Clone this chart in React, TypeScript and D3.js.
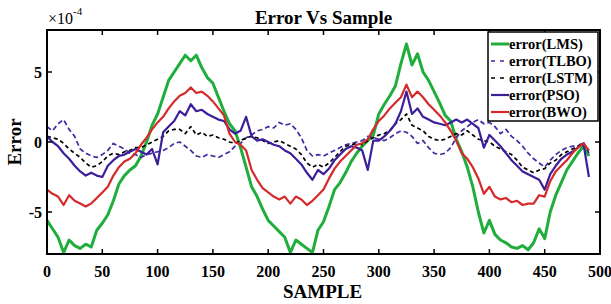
import React, { useEffect, useRef } from "react";
import * as d3 from "d3";

// sample step between stored values
const STEP = 5;

const xTicks = [0, 50, 100, 150, 200, 250, 300, 350, 400, 450, 500];
const yTicks = [-5, 0, 5];

// error values, in units of 1e-4
const lms = [
  -5.6, -6.2, -6.8, -7.9, -7.0, -7.4, -7.6, -7.3, -7.5, -6.3,
  -5.8, -5.2, -4.2, -3.0, -2.4, -2.0, -1.7, -1.0, 0.0, 1.2,
  2.0, 3.2, 4.4, 5.0, 5.6, 6.2, 5.8, 6.2, 5.3, 4.6,
  4.2, 3.2, 2.2, 1.3, 0.8, -0.4, -1.8, -3.2, -3.9, -4.8,
  -5.6, -6.0, -6.4, -6.8, -7.9, -7.0, -7.3, -7.6, -7.9, -6.3,
  -5.7, -4.6, -3.4, -2.9, -2.2, -1.4, -0.8, -0.3, 0.1, 0.5,
  2.0, 2.7, 3.3, 4.0, 5.6, 7.0, 5.5, 6.3, 5.0, 4.4,
  3.6, 2.8, 1.9, 1.5, 0.2, -0.7, -1.8, -3.2, -5.0, -6.5,
  -5.6, -6.6, -7.0, -7.2, -7.5, -7.6, -7.4, -7.7, -7.2, -6.2,
  -6.9, -5.0, -3.8, -2.9, -2.0, -1.4, -0.8, -0.3, -1.0,
];
const tlbo = [
  1.1, 0.8, 1.3, 1.6, 0.9, 0.4, -0.5, -0.8, -1.0, -1.1,
  -0.9, -0.6, -0.1, -0.3, -0.5, -0.8, -0.9, -1.1, -0.9, -0.8,
  -0.7, -0.6, -0.4, -0.1, 0.0, -0.3, -0.6, -1.0, -1.1, -0.9,
  -1.0, -1.1, -0.9, -0.7, -0.3, -0.1, 0.3, 0.5, 0.8, 0.9,
  1.1, 1.0, 1.4, 1.2, 1.3, 0.9, 0.3, -0.6, -1.0, -0.9,
  -1.0, -0.8, -0.6, -0.4, -0.2, -0.1, 0.0, 0.1, 0.4, 0.3,
  0.2, 0.1, 0.3, 0.6, 0.8, 0.7, 0.4, -0.1, 0.1, -0.4,
  -0.8, -0.9, -0.8, -0.4, 0.3, 0.8, 1.1, 1.4, 1.6, 1.3,
  1.4, 1.1, 0.6, 0.9, 0.4, 0.1, -0.3, -0.8, -1.2, -1.5,
  -1.8, -1.3, -0.9, -0.6, -0.4, -0.3, -0.3, 0.0, -0.8,
];
const lstm = [
  0.4, 0.3, 0.2, -0.1, -0.5, -0.8, -1.1, -1.5, -1.8, -1.7,
  -1.4, -1.0, -0.8, -0.9, -0.7, -0.6, -0.4, -0.4, -0.2, 0.0,
  0.2, 0.4, 0.8, 0.9, 0.9, 0.6, 1.1, 0.5, 0.7, 0.4,
  0.5, 0.3, 0.2, 0.0, -0.1, 0.1, 0.3, 0.4, 0.3, 0.1,
  -0.1, 0.0, 0.1, -0.1, -0.3, -0.5, -0.9, -1.5, -1.8, -1.6,
  -1.8, -1.5, -1.1, -0.7, -0.3, -0.2, -0.1, -0.2, 0.1, 0.3,
  0.5, 0.6, 0.8, 1.3, 1.6, 2.0, 1.2, 1.0, 0.8, 0.4,
  0.2, 0.1, 0.2, 0.4, 0.6, 0.5, 0.8, 0.5, 0.2, 0.1,
  0.0, -0.3, -0.5, -0.7, -0.9, -1.3, -1.8, -2.0, -2.2, -2.0,
  -1.9, -1.5, -1.3, -0.9, -0.7, -0.5, -0.3, -0.1, -0.6,
];
const pso = [
  0.4, 0.0, -0.3, -0.8, -1.2, -1.7, -2.1, -2.4, -2.2, -2.4,
  -2.5, -1.7, -1.3, -1.0, -0.9, -0.7, -0.5, -0.7, -0.9, -0.5,
  -1.6, 0.7, 1.1, 1.5, 2.2, 1.9, 2.7, 2.2, 2.3, 2.0,
  1.8, 1.6, 1.5, 0.9, 0.6, 0.8, 1.8, 0.4, 0.1, 0.2,
  0.0, -0.2, -0.3, -0.6, -0.8, -1.2, -1.6, -2.2, -2.7, -2.0,
  -2.3, -1.9, -1.3, -0.9, -0.5, -0.3, -0.4, -0.6, -2.0, 0.1,
  0.1, 0.4, 0.8, 1.3, 2.2, 3.6, 2.0, 2.4, 1.8, 1.6,
  1.4, 1.3, 1.2, 1.4, 1.6, 1.4, 1.6, 1.3, 1.0, -0.4,
  0.5, 0.1, -0.3, -0.8, -1.3, -1.7, -2.1, -2.3, -2.5, -2.7,
  -3.4, -2.3, -1.7, -1.2, -0.9, -0.7, -0.4, -0.1, -2.5,
];
const bwo = [
  -3.4, -3.7, -3.9, -4.5, -3.8, -4.2, -4.4, -4.6, -4.4, -4.0,
  -3.6, -3.2, -2.4, -1.8, -1.4, -1.2, -0.8, -0.2, 0.3, 0.9,
  1.4, 1.8, 2.4, 2.9, 3.3, 3.5, 3.9, 3.5, 3.6, 3.3,
  2.9, 2.4, 1.9, 0.6, 0.0, -0.2, -0.6, -2.0, -2.7, -3.3,
  -3.6, -3.9, -4.1, -3.9, -4.4, -3.9, -4.1, -4.5, -4.2, -3.8,
  -3.4, -2.6, -1.9, -1.4, -1.0, -0.6, -0.2, -0.1, 0.2, 0.9,
  1.5, 1.9, 2.4, 2.8, 3.2, 4.1, 3.2, 3.6, 3.2, 2.7,
  2.3, 1.9, 1.4, 0.8, 0.1, -0.8, -1.2, -1.8, -2.6, -3.7,
  -3.2, -3.9, -4.1, -4.0, -4.3, -4.2, -4.5, -4.4, -4.4, -3.8,
  -3.9, -2.8, -2.1, -1.7, -1.3, -0.8, -0.4, -0.1, -0.6,
];

const seriesNames = ["error(LMS)", "error(TLBO)", "error(LSTM)", "error(PSO)", "error(BWO)"];

const W = 611, H = 304;
const FONT = "'Liberation Serif', 'Times New Roman', serif";

export default function App() {
  const ref = useRef<SVGSVGElement>(null);

  useEffect(() => {
    const svg = d3.select(ref.current);
    svg.selectAll("*").remove();

    const margin = { top: 30, right: 11, bottom: 50, left: 47 };
    const x = d3.scaleLinear().domain([0, 500]).range([margin.left, W - margin.right]);
    const y = d3.scaleLinear().domain([-8, 8]).range([H - margin.bottom, margin.top]);

    const styles = [
      { data: lms, color: "#1fae3c", width: 3, dash: null },
      { data: tlbo, color: "#3f2aa0", width: 1.7, dash: "5,3" },
      { data: lstm, color: "#000000", width: 1.7, dash: "4,3" },
      { data: pso, color: "#3c1e9a", width: 2.2, dash: null },
      { data: bwo, color: "#d42a2a", width: 2.2, dash: null },
    ];

    svg.append("defs").append("clipPath").attr("id", "plotclip")
      .append("rect")
      .attr("x", margin.left).attr("y", margin.top)
      .attr("width", W - margin.left - margin.right)
      .attr("height", H - margin.top - margin.bottom);

    const line = d3.line<number>()
      .x((d, i) => x(i * STEP))
      .y(d => y(d));

    const plot = svg.append("g").attr("clip-path", "url(#plotclip)");
    styles.forEach(s => {
      plot.append("path")
        .datum(s.data)
        .attr("d", line)
        .attr("fill", "none")
        .attr("stroke", s.color)
        .attr("stroke-width", s.width)
        .attr("stroke-linejoin", "round")
        .attr("stroke-dasharray", s.dash);
    });

    // box axes, ticks inward
    const g = svg.append("g").attr("font-family", FONT);
    const x0 = margin.left, x1 = W - margin.right, y0 = margin.top, y1 = H - margin.bottom;

    xTicks.forEach(t => {
      g.append("line").attr("x1", x(t)).attr("x2", x(t)).attr("y1", y1).attr("y2", y1 - 5)
        .attr("stroke", "#000").attr("stroke-width", 1.5);
      g.append("line").attr("x1", x(t)).attr("x2", x(t)).attr("y1", y0).attr("y2", y0 + 5)
        .attr("stroke", "#000").attr("stroke-width", 1.5);
      g.append("text").attr("x", x(t)).attr("y", y1 + 23)
        .attr("text-anchor", "middle").attr("font-size", 16).attr("font-weight", "bold")
        .text(t);
    });
    yTicks.forEach(t => {
      g.append("line").attr("x1", x0).attr("x2", x0 + 5).attr("y1", y(t)).attr("y2", y(t))
        .attr("stroke", "#000").attr("stroke-width", 1.5);
      g.append("line").attr("x1", x1).attr("x2", x1 - 5).attr("y1", y(t)).attr("y2", y(t))
        .attr("stroke", "#000").attr("stroke-width", 1.5);
      g.append("text").attr("x", x0 - 5).attr("y", y(t)).attr("dy", "0.35em")
        .attr("text-anchor", "end").attr("font-size", 16).attr("font-weight", "bold")
        .text(t);
    });

    g.append("rect").attr("x", x0).attr("y", y0).attr("width", x1 - x0).attr("height", y1 - y0)
      .attr("fill", "none").attr("stroke", "#000").attr("stroke-width", 2);

    // exponent label
    const ex = g.append("text").attr("x", x0 + 1).attr("y", 24).attr("font-size", 16);
    ex.append("tspan").text("\u00d710");
    ex.append("tspan").attr("dy", -9).attr("font-size", 11).text("-4");

    g.append("text").attr("x", (x0 + x1) / 2).attr("y", 24)
      .attr("text-anchor", "middle").attr("font-size", 19).attr("font-weight", "bold")
      .text("Error Vs Sample");
    g.append("text").attr("x", (x0 + x1) / 2 - 1).attr("y", 298)
      .attr("text-anchor", "middle").attr("font-size", 19).attr("font-weight", "bold")
      .text("SAMPLE");
    g.append("text").attr("transform", `translate(21,${(y0 + y1) / 2}) rotate(-90)`)
      .attr("text-anchor", "middle").attr("font-size", 19).attr("font-weight", "bold")
      .text("Error");

    // legend
    const lg = g.append("g");
    lg.append("rect").attr("x", 488).attr("y", 32).attr("width", 110).attr("height", 89)
      .attr("fill", "#fff").attr("stroke", "#000").attr("stroke-width", 1.5);
    styles.forEach((s, i) => {
      const ly = 44 + i * 17;
      lg.append("line").attr("x1", 491).attr("x2", 509).attr("y1", ly).attr("y2", ly)
        .attr("stroke", s.color).attr("stroke-width", s.width)
        .attr("stroke-dasharray", s.dash ? "4,5" : null);
      lg.append("text").attr("x", 509).attr("y", ly).attr("dy", "0.35em")
        .attr("font-size", 14.5).attr("font-weight", "bold")
        .text(seriesNames[i]);
    });
  }, []);

  return (
    <svg ref={ref} width={W} height={H}
      style={{ position: "absolute", left: 0, top: 0, background: "#fff" }} />
  );
}
